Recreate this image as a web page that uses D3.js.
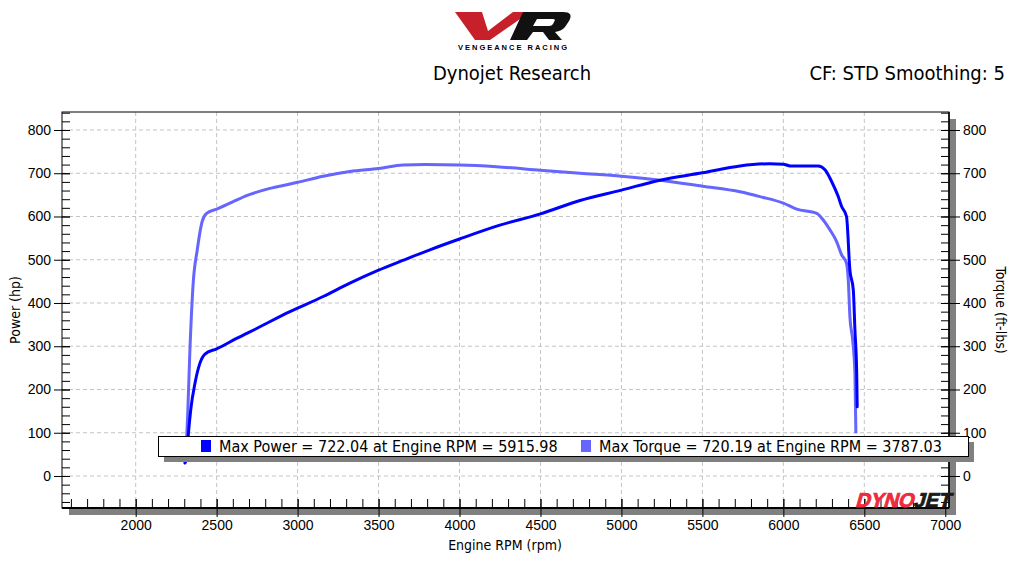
<!DOCTYPE html>
<html>
<head>
<meta charset="utf-8">
<script src="https://cdn.jsdelivr.net/npm/d3@7"></script>
<style>
  body { margin: 0; background: #fff; }
  svg { display: block; font-family: "DejaVu Sans Condensed", "DejaVu Sans", sans-serif; font-stretch: condensed; }
</style>
</head>
<body>
<div id="chart"></div>
<script>
const SVG_WIDTH = 1024;
const SVG_HEIGHT = 576;
const PLOT = { LEFT: 62, RIGHT: 949, TOP: 112, BOTTOM: 508 }; // plot box

// power curve (hp)
const powerRpm = [2304, 2314, 2325, 2340, 2366, 2397, 2428, 2500, 2623, 2747, 2953, 3000, 3158, 3323, 3500,
  3653, 3817, 4000, 4249, 4500, 4744, 5000, 5238, 5500, 5732, 5916, 6000, 6041, 6215, 6257, 6298, 6339,
  6360, 6390, 6411, 6432, 6442, 6453, 6456];
const powerHp = [30, 40, 95, 153, 214, 261, 282, 294, 318, 341, 380, 388, 415, 446, 476,
  499, 523, 548, 580, 606, 637, 661, 684, 701, 717, 722, 721, 717, 717, 708, 681, 646,
  623, 600, 476, 430, 338, 237, 160];

// torque curve (ft-lbs)
const torqueRpm = [2313, 2322, 2335, 2355, 2380, 2411, 2438, 2500, 2623, 2706, 2829, 2953, 3000, 3158, 3323,
  3500, 3653, 3787, 4000, 4229, 4500, 4744, 5000, 5238, 5500, 5732, 5855, 6000, 6082, 6206, 6246, 6288,
  6329, 6360, 6390, 6401, 6411, 6428, 6442, 6448];
const torqueFtLbs = [70, 150, 291, 445, 522, 589, 607, 617, 638, 651, 665, 675, 679, 693, 704,
  711, 719, 720, 719, 715, 707, 700, 693, 684, 670, 657, 646, 631, 617, 607, 592, 569,
  542, 511, 492, 453, 368, 314, 237, 99];

const xTicks = [2000, 2500, 3000, 3500, 4000, 4500, 5000, 5500, 6000, 6500, 7000];
const yTicks = [0, 100, 200, 300, 400, 500, 600, 700, 800];
const legendLabels = ["Max Power = 722.04 at Engine RPM = 5915.98",
  "Max Torque = 720.19 at Engine RPM = 3787.03"];

const POWER_COLOR = "#0000ff";
const TORQUE_COLOR = "#6666ff";

const svg = d3.select("#chart").append("svg")
  .attr("width", SVG_WIDTH)
  .attr("height", SVG_HEIGHT);

const x = d3.scaleLinear().domain([1545, 7023]).range([PLOT.LEFT, PLOT.RIGHT]);
const y = d3.scaleLinear().domain([-74, 841.6]).range([PLOT.BOTTOM, PLOT.TOP]);

// ---- header: logo + titles
const logo = svg.append("g");
logo.append("path")
  .attr("d", "M455,12 L482,12 L488,31 L513,12 L530,12 L490,40 L475,40 Z")
  .attr("fill", "#c8202a");
logo.append("path")
  .attr("d", "M523,12 L563,12 Q574,12 569,21 L565,27 Q562,31 555,32 L562,40 L549,40 L543,32 L533,32 L527,40 L510,40 Z " +
    "M537,19 L553,19 Q556,19 554,22 L553,24 Q552,26 549,26 L533,26 Z")
  .attr("fill", "#111")
  .attr("fill-rule", "evenodd");
logo.append("text")
  .attr("x", 458).attr("y", 50)
  .attr("textLength", 109).attr("lengthAdjust", "spacing")
  .style("font-family", "'Liberation Sans', Arial, sans-serif")
  .style("font-size", "7.5px").style("font-weight", "bold")
  .text("VENGEANCE RACING");

svg.append("text")
  .attr("x", 512).attr("y", 80)
  .attr("text-anchor", "middle")
  .style("font-size", "20px")
  .text("Dynojet Research");
svg.append("text")
  .attr("x", 1005).attr("y", 80)
  .attr("text-anchor", "end")
  .style("font-size", "20px")
  .text("CF: STD Smoothing: 5");

// ---- plot box with shadow
svg.append("rect")
  .attr("x", PLOT.LEFT + 7).attr("y", PLOT.TOP + 7)
  .attr("width", PLOT.RIGHT - PLOT.LEFT).attr("height", PLOT.BOTTOM - PLOT.TOP)
  .attr("fill", "#808080");
svg.append("rect")
  .attr("x", PLOT.LEFT).attr("y", PLOT.TOP)
  .attr("width", PLOT.RIGHT - PLOT.LEFT).attr("height", PLOT.BOTTOM - PLOT.TOP)
  .attr("fill", "#fff");

// grid
const grid = svg.append("g").attr("stroke", "#c4c4c4").attr("stroke-dasharray", "4,3");
grid.selectAll(".gx").data(xTicks.filter(d => d < 7000)).enter().append("line")
  .attr("x1", d => x(d)).attr("x2", d => x(d))
  .attr("y1", PLOT.TOP).attr("y2", PLOT.BOTTOM);
grid.selectAll(".gy").data(yTicks).enter().append("line")
  .attr("x1", PLOT.LEFT).attr("x2", PLOT.RIGHT)
  .attr("y1", d => y(d)).attr("y2", d => y(d));

// ---- curves
const line = d3.line().curve(d3.curveMonotoneX);
const plotArea = svg.append("g");
plotArea.append("path")
  .datum(torqueRpm.map((r, i) => [x(r), y(torqueFtLbs[i])]))
  .attr("d", line)
  .attr("fill", "none").attr("stroke", TORQUE_COLOR).attr("stroke-width", 3)
  .attr("stroke-linejoin", "round");
plotArea.append("path")
  .datum(powerRpm.map((r, i) => [x(r), y(powerHp[i])]))
  .attr("d", line)
  .attr("fill", "none").attr("stroke", POWER_COLOR).attr("stroke-width", 3)
  .attr("stroke-linejoin", "round").attr("stroke-linecap", "round");

// ---- axes
const minorX = d3.range(1600, 7001, 100);
const minorY = d3.range(-60, 841, 20);

function styleAxis(g) {
  g.select(".domain").remove();
  g.selectAll("line").attr("stroke", "#000");
  g.selectAll("text").style("font-size", "14px").attr("fill", "#000");
}

// bottom
svg.append("g")
  .attr("transform", `translate(0,${PLOT.BOTTOM})`)
  .call(d3.axisBottom(x).tickValues(minorX).tickSize(-9).tickFormat(""))
  .call(styleAxis);
svg.append("g")
  .attr("transform", `translate(0,${PLOT.BOTTOM})`)
  .call(d3.axisBottom(x).tickValues(xTicks).tickSize(9).tickFormat(d3.format("d")))
  .call(styleAxis)
  .call(g => g.selectAll("line").attr("y1", -9))
  .call(g => g.selectAll("text").attr("y", 12));

// left
svg.append("g")
  .attr("transform", `translate(${PLOT.LEFT},0)`)
  .call(d3.axisLeft(y).tickValues(minorY).tickSize(-8).tickFormat(""))
  .call(styleAxis);
svg.append("g")
  .attr("transform", `translate(${PLOT.LEFT},0)`)
  .call(d3.axisLeft(y).tickValues(yTicks).tickSize(8).tickFormat(d3.format("d")))
  .call(styleAxis)
  .call(g => g.selectAll("line").attr("x1", 8))
  .call(g => g.selectAll("text").attr("x", -11));

// right (torque shares the same scale)
svg.append("g")
  .attr("transform", `translate(${PLOT.RIGHT},0)`)
  .call(d3.axisRight(y).tickValues(minorY).tickSize(-8).tickFormat(""))
  .call(styleAxis);
svg.append("g")
  .attr("transform", `translate(${PLOT.RIGHT},0)`)
  .call(d3.axisRight(y).tickValues(yTicks).tickSize(11).tickFormat(d3.format("d")))
  .call(styleAxis)
  .call(g => g.selectAll("line").attr("x1", -8))
  .call(g => g.selectAll("text").attr("x", 14));

// frame
svg.append("rect")
  .attr("x", PLOT.LEFT).attr("y", PLOT.TOP)
  .attr("width", PLOT.RIGHT - PLOT.LEFT).attr("height", PLOT.BOTTOM - PLOT.TOP)
  .attr("fill", "none").attr("stroke", "#000").attr("stroke-width", 1);
svg.append("line")
  .attr("x1", PLOT.LEFT).attr("x2", PLOT.RIGHT)
  .attr("y1", PLOT.BOTTOM).attr("y2", PLOT.BOTTOM)
  .attr("stroke", "#000").attr("stroke-width", 2);
svg.append("line")
  .attr("x1", PLOT.RIGHT).attr("x2", PLOT.RIGHT)
  .attr("y1", PLOT.TOP).attr("y2", PLOT.BOTTOM)
  .attr("stroke", "#000").attr("stroke-width", 1.5);

// axis titles
svg.append("text")
  .attr("x", 505).attr("y", 550)
  .attr("text-anchor", "middle").style("font-size", "14px")
  .text("Engine RPM (rpm)");
svg.append("text")
  .attr("transform", `translate(20,${(PLOT.TOP + PLOT.BOTTOM) / 2}) rotate(-90)`)
  .attr("text-anchor", "middle").style("font-size", "14px")
  .text("Power (hp)");
svg.append("text")
  .attr("transform", `translate(996,${(PLOT.TOP + PLOT.BOTTOM) / 2}) rotate(90)`)
  .attr("text-anchor", "middle").style("font-size", "14px")
  .text("Torque (ft-lbs)");

// ---- legend
const legend = svg.append("g");
legend.append("rect")
  .attr("x", 164).attr("y", 442).attr("width", 810).attr("height", 20)
  .attr("fill", "#808080");
legend.append("rect")
  .attr("x", 158.5).attr("y", 436.5).attr("width", 810).attr("height", 20)
  .attr("fill", "#fff").attr("stroke", "#000");
const legendX = [201, 581];
const legendColors = [POWER_COLOR, TORQUE_COLOR];
legend.selectAll(".sw").data(legendLabels).enter().append("rect")
  .attr("x", (d, i) => legendX[i]).attr("y", 440)
  .attr("width", 10).attr("height", 12)
  .attr("fill", (d, i) => legendColors[i]);
legend.selectAll(".lt").data(legendLabels).enter().append("text")
  .attr("x", (d, i) => legendX[i] + 18).attr("y", 452)
  .style("font-size", "16px")
  .text(d => d);

// ---- dynojet mark
svg.append("text")
  .attr("transform", "translate(855,507) skewX(-16)")
  .attr("textLength", 95).attr("lengthAdjust", "spacingAndGlyphs")
  .style("font-family", "'Liberation Sans', Arial, sans-serif")
  .style("font-size", "20px").style("font-weight", "900")
  .attr("stroke-width", 0.8)
  .call(t => t.append("tspan").attr("fill", "#ee2a3c").attr("stroke", "#ee2a3c").text("DYNO"))
  .call(t => t.append("tspan").attr("fill", "#1a1a1a").attr("stroke", "#1a1a1a").text("JET"));
</script>
</body>
</html>
